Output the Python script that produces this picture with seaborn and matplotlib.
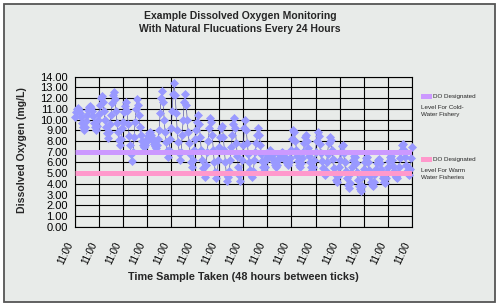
import numpy as np
import pandas as pd
import matplotlib
matplotlib.use("Agg")
import matplotlib.pyplot as plt
from matplotlib.patches import Rectangle
import seaborn as sns

# ---- data (one row per day, samples every 2 hours from 11:00) ----
do_day_rows = [
    [10.2, 10.7, 11.0, 11.1, 10.9, 10.6, 10.2, 9.7, 9.3, 9.0, 9.3, 9.9],
    [10.4, 10.9, 11.2, 11.3, 11.1, 10.8, 10.3, 9.7, 9.3, 9.0, 9.4, 10.0],
    [10.5, 11.4, 12.0, 12.2, 11.6, 10.8, 10.0, 9.3, 8.7, 8.3, 8.8, 9.6],
    [10.4, 11.5, 12.3, 12.6, 11.9, 10.8, 9.7, 8.8, 8.1, 7.6, 8.2, 9.2],
    [9.8, 10.7, 11.3, 11.6, 10.8, 9.6, 8.5, 7.6, 6.8, 6.1, 7.0, 8.4],
    [9.8, 11.0, 11.9, 11.4, 10.4, 9.3, 8.6, 8.0, 7.6, 7.4, 7.6, 7.9],
    [8.2, 8.5, 8.7, 8.8, 8.6, 8.3, 8.0, 7.7, 7.5, 7.3, 7.6, 8.2],
    [9.0, 10.6, 12.0, 12.7, 11.6, 10.0, 8.8, 7.9, 7.1, 6.5, 7.2, 8.2],
    [9.2, 10.8, 12.4, 13.4, 12.3, 10.6, 9.0, 7.9, 6.9, 6.2, 7.0, 8.6],
    [10.0, 11.6, 12.4, 11.4, 10.0, 8.8, 7.8, 6.8, 6.0, 5.6, 6.2, 7.2],
    [8.2, 9.0, 9.8, 10.4, 9.6, 8.4, 7.2, 6.2, 5.5, 5.0, 4.6, 5.8],
    [7.0, 8.0, 9.2, 10.1, 9.8, 8.6, 7.2, 6.0, 5.1, 4.5, 5.0, 6.2],
    [7.4, 8.4, 9.2, 9.4, 8.4, 7.2, 6.0, 4.9, 4.3, 4.6, 5.2, 6.2],
    [7.4, 8.6, 9.6, 10.1, 9.2, 7.8, 6.6, 5.6, 4.8, 4.3, 5.0, 6.2],
    [7.6, 9.2, 10.0, 9.0, 7.8, 6.8, 6.0, 5.3, 4.8, 4.6, 5.2, 6.2],
    [7.0, 7.8, 8.6, 9.2, 8.6, 7.6, 6.8, 6.1, 5.6, 5.2, 5.6, 6.2],
    [6.5, 6.8, 7.1, 7.2, 7.0, 6.7, 6.3, 6.0, 5.8, 5.6, 5.8, 6.2],
    [6.4, 6.7, 6.9, 7.0, 6.9, 6.6, 6.3, 6.1, 5.9, 5.8, 6.0, 6.4],
    [7.2, 8.2, 9.0, 8.8, 8.0, 7.2, 6.6, 6.1, 5.8, 5.6, 5.9, 6.4],
    [7.0, 7.8, 8.4, 8.6, 8.0, 7.3, 6.6, 6.0, 5.6, 5.3, 5.6, 6.2],
    [7.0, 8.0, 8.8, 8.5, 7.7, 6.9, 6.1, 5.5, 5.0, 4.8, 5.2, 6.0],
    [6.8, 7.8, 8.4, 8.1, 7.2, 6.3, 5.5, 4.9, 4.4, 4.2, 4.7, 5.6],
    [6.2, 7.0, 7.5, 7.6, 6.9, 6.0, 5.2, 4.5, 3.9, 3.6, 4.1, 5.0],
    [5.6, 6.2, 6.6, 6.5, 5.9, 5.1, 4.4, 3.8, 3.5, 3.3, 3.8, 4.7],
    [5.4, 6.0, 6.4, 6.5, 6.0, 5.3, 4.7, 4.2, 3.9, 3.8, 4.2, 4.9],
    [5.4, 5.9, 6.2, 6.3, 5.9, 5.4, 4.9, 4.5, 4.2, 4.1, 4.5, 5.1],
    [5.6, 6.1, 6.5, 6.6, 6.2, 5.7, 5.2, 4.8, 4.6, 4.5, 4.9, 5.6],
    [6.4, 7.1, 7.6, 7.7, 7.2, 6.5, 5.8, 5.2, 4.9, 4.8, 5.4, 6.4],
]
do_final = [7.4]
sample_step_hours = 2

cold_level = 7.0
warm_level = 5.0
cold_label = ["DO Designated", "Level For Cold-", "Water Fishery"]
warm_label = ["DO Designated", "Level For Warm", "Water Fisheries"]

tick_hours = list(range(0, 673, 48))
tick_labels = ["11:00"] * len(tick_hours)
ytick_vals = list(range(0, 15))
ytick_labels = [f"{v:.2f}" for v in ytick_vals]

title = "Example Dissolved Oxygen Monitoring\nWith Natural Flucuations Every 24 Hours"
xlabel = "Time Sample Taken (48 hours between ticks)"
ylabel = "Dissolved Oxygen (mg/L)"

# ---- build table ----
values = [v for row in do_day_rows for v in row] + do_final
hours = np.arange(len(values)) * sample_step_hours
df = pd.DataFrame({"hour": hours, "do": values})

# ---- style ----
sns.set_theme(style="white")
plt.rcParams["font.family"] = ["Liberation Sans", "DejaVu Sans"]

W, H = 500, 307
fig = plt.figure(figsize=(W / 100, H / 100), dpi=100)
fig.patch.set_facecolor("white")
BG = "#e8ebe9"
fig.patches.append(Rectangle((4 / W, 1 - 302 / H), 491 / W, 298 / H,
                             transform=fig.transFigure, facecolor=BG,
                             edgecolor="#555555", lw=1.3, zorder=-10))

L, R, T, B = 75, 411.7, 76.7, 226.7
ax = fig.add_axes([L / W, 1 - B / H, (R - L) / W, (B - T) / H])
ax.set_facecolor(BG)

sns.lineplot(data=df, x="hour", y="do", ax=ax, color="#3a3a90", lw=0.4,
             marker="D", markersize=3.6, markerfacecolor="#9999ff",
             markeredgecolor="#9999ff", markeredgewidth=0.5,
             zorder=3, clip_on=False, legend=False)

ax.axhline(cold_level, color="#cc99ff", lw=3.6, zorder=4, solid_capstyle="butt")
ax.axhline(warm_level, color="#ff99cc", lw=3.6, zorder=4, solid_capstyle="butt")

ax.set_xlim(0, 672)
ax.set_ylim(0, 14)
ax.set_xticks(tick_hours)
ax.set_xticklabels(tick_labels, rotation=65, ha="right", fontsize=7)
ax.set_yticks(ytick_vals)
ax.set_yticklabels(ytick_labels, fontsize=8)
ax.tick_params(axis="both", direction="out", length=3, width=0.8,
               color="black", pad=2, labelcolor="black")
ax.tick_params(axis="x", pad=7)
ax.grid(True, color="black", lw=0.8, zorder=1)
ax.set_axisbelow(True)
for s in ax.spines.values():
    s.set_color("black")
    s.set_linewidth(0.8)
ax.set_xlabel("")
ax.set_ylabel("")

fig.text(240 / W, 1 - 22.5 / H, title, ha="center", va="center",
         fontsize=7.5, fontweight="bold", linespacing=1.35)
fig.text(243 / W, 1 - 277 / H, xlabel, ha="center", va="center",
         fontsize=7.8, fontweight="bold")
fig.text(22 / W, 1 - 150 / H, ylabel, ha="center", va="center",
         rotation=90, fontsize=7.6, fontweight="bold")

# legend (manual, matching the reference layout)
def legend_entry(y0, color, lines):
    fig.patches.append(Rectangle((421 / W, 1 - (y0 + 2.5) / H), 11 / W, 5 / H,
                                 transform=fig.transFigure, facecolor=color,
                                 edgecolor="none"))
    fig.text(433 / W, 1 - y0 / H, lines[0], ha="left", va="center", fontsize=4.5)
    fig.text(421 / W, 1 - (y0 + 8.5) / H, lines[1] + "\n" + lines[2], ha="left",
             va="top", fontsize=4.5, linespacing=1.45)

legend_entry(96.5, "#cc99ff", cold_label)
legend_entry(159.5, "#ff99cc", warm_label)

fig.savefig("out.png", dpi=100, facecolor="white")
